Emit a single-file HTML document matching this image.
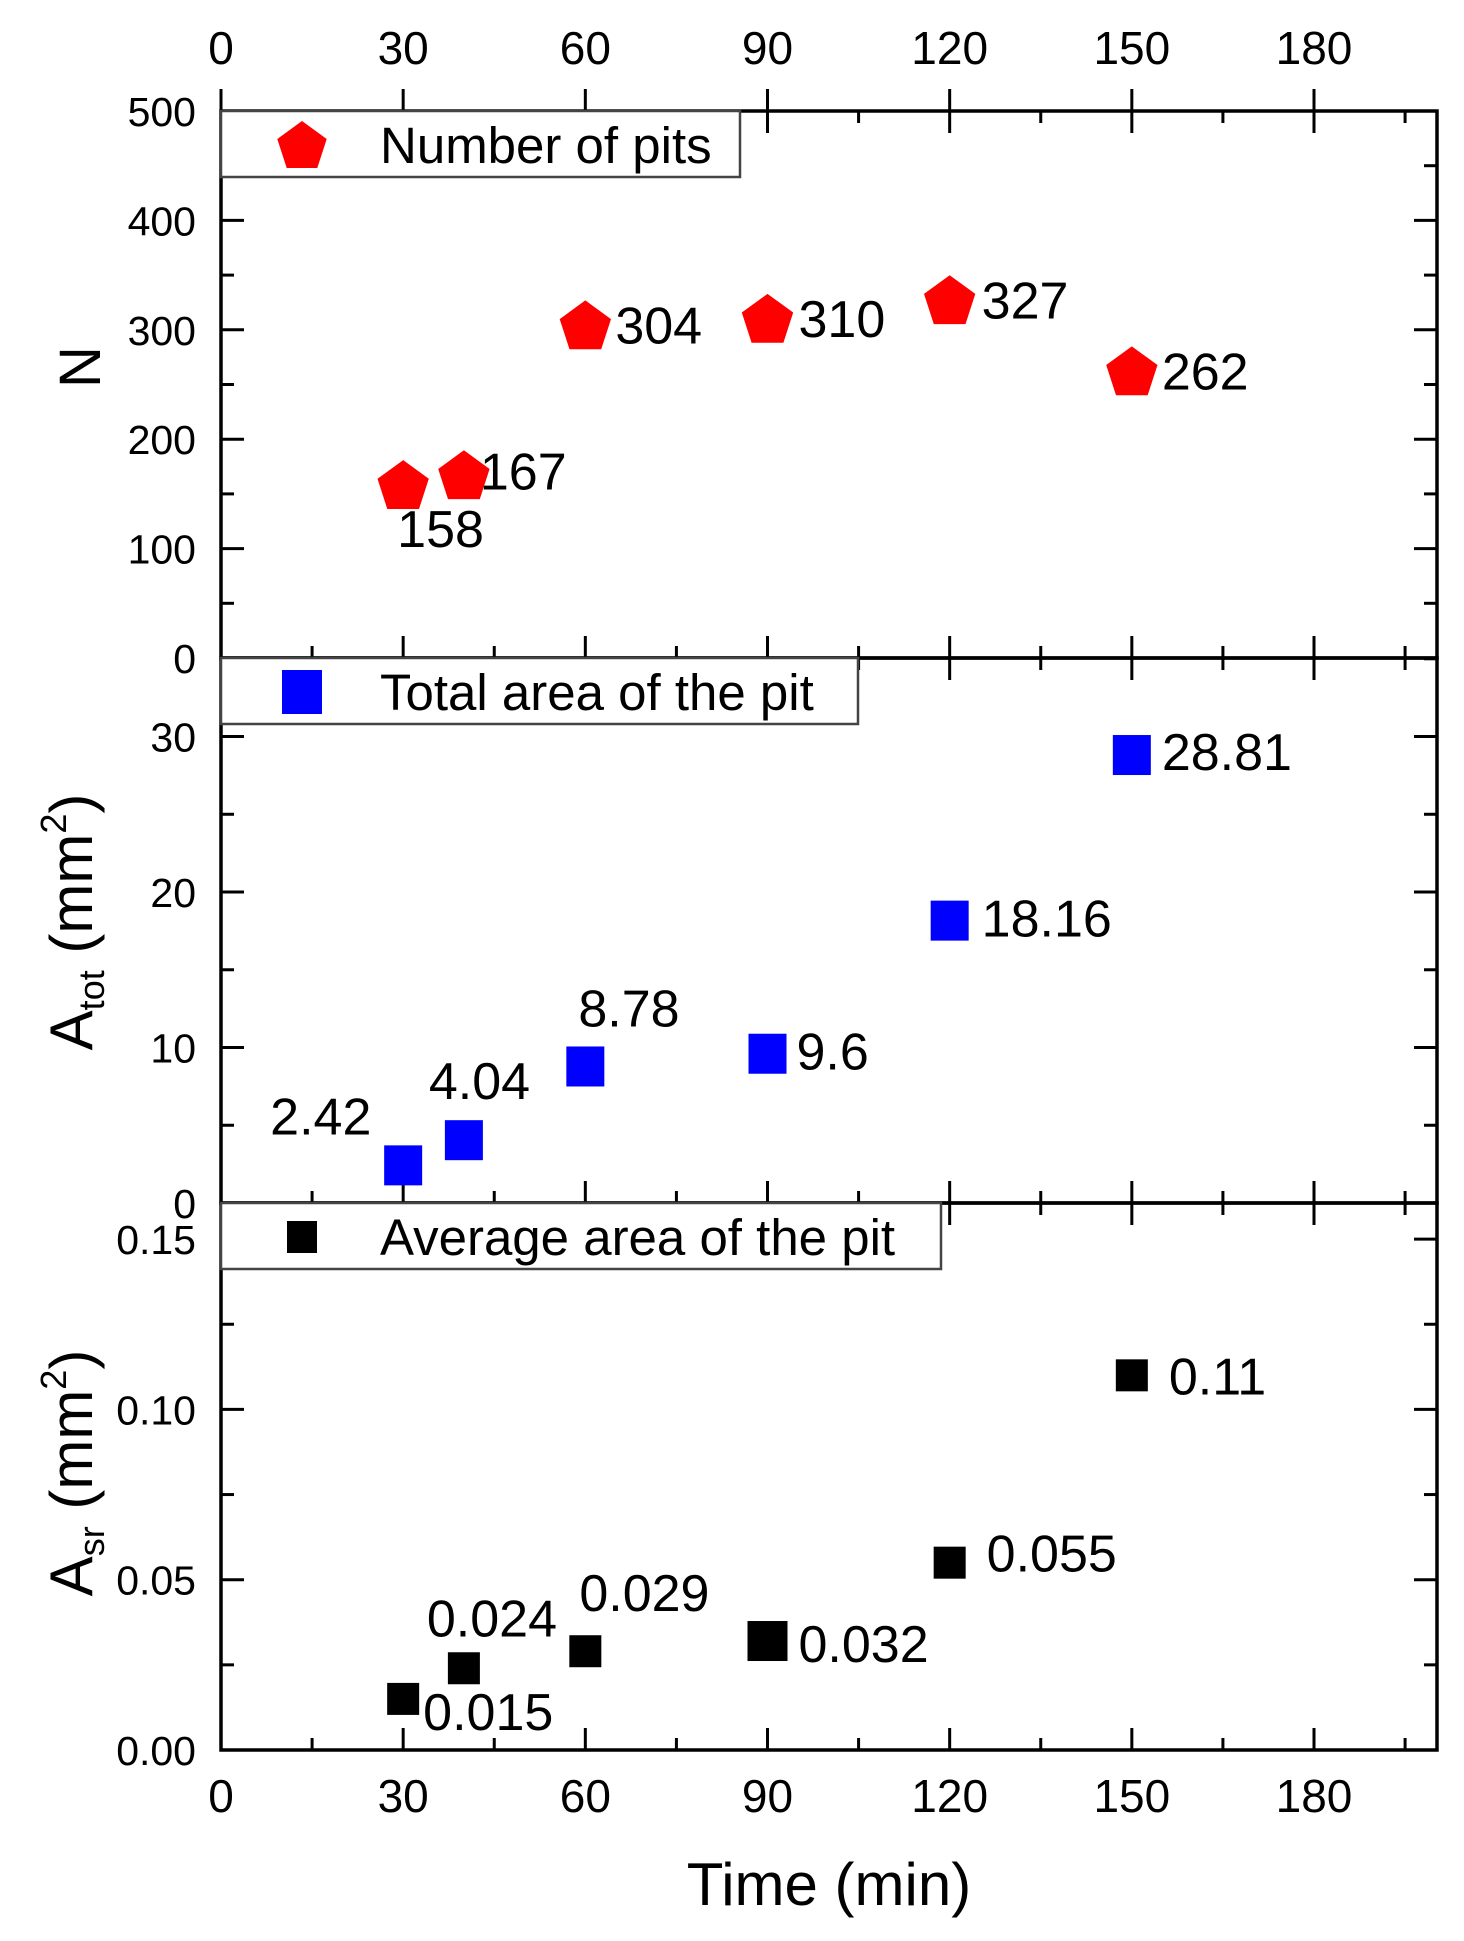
<!DOCTYPE html>
<html><head><meta charset="utf-8"><style>
html,body{margin:0;padding:0;background:#fff;}
svg{display:block;font-family:"Liberation Sans",Arial,sans-serif;}
</style></head><body>
<svg id="chart" width="1464" height="1941" viewBox="0 0 1464 1941" xmlns="http://www.w3.org/2000/svg">
<g id="g"></g>
</svg>
<script>
const times = [30, 40, 60, 90, 120, 150];
const pitCount = [158, 167, 304, 310, 327, 262];
const pitCountLabels = ["158","167","304","310","327","262"];
const totalArea = [2.42, 4.04, 8.78, 9.6, 18.16, 28.81];
const totalAreaLabels = ["2.42","4.04","8.78","9.6","18.16","28.81"];
const avgArea = [0.015, 0.024, 0.029, 0.032, 0.055, 0.11];
const avgAreaLabels = ["0.015","0.024","0.029","0.032","0.055","0.11"];
const xTicks = [0, 30, 60, 90, 120, 150, 180];
const nTicks = [0, 100, 200, 300, 400, 500];
const totTicks = [0, 10, 20, 30];
const avgTicks = ["0.00","0.05","0.10","0.15"];

const NS = "http://www.w3.org/2000/svg";
const g = document.getElementById('g');
const L = 221, R = 1437;
const xS = v => L + v * (1314 - L) / 180;
const xMax = (R - L) / ((1314 - L) / 180);
const panels = [
  {top:111, bot:658, min:0, max:500},
  {top:658, bot:1203, min:0, max:35.05},
  {top:1203, bot:1750, min:0, max:0.1606}
];
const yS = (p, v) => p.bot - (v - p.min) / (p.max - p.min) * (p.bot - p.top);

function el(tag, attrs, parent) {
  const e = document.createElementNS(NS, tag);
  for (const k in attrs) e.setAttribute(k, attrs[k]);
  (parent || g).appendChild(e);
  return e;
}
function txt(s, x, y, size, anchor, parent) {
  const t = el('text', {x:x, y:y, 'font-size':size, 'text-anchor':anchor||'start', fill:'#000'}, parent);
  t.textContent = s;
  return t;
}

panels.forEach((p, i) => {
  const fr = el('rect', {x:L, y:p.top, width:R-L, height:p.bot-p.top, fill:'none', stroke:'#000', 'stroke-width':3.5});
  
  
  for (let v = 0; v <= xMax; v += 15) {
    const x = xS(v), maj = v % 30 === 0;
    const len = maj ? 22 : 12;
    el('line', {x1:x, y1:p.bot, x2:x, y2:p.bot-len, stroke:'#000', 'stroke-width':3});
    el('line', {x1:x, y1:p.top, x2:x, y2:p.top+len, stroke:'#000', 'stroke-width':3});
  }
});
xTicks.forEach(v => { el('line', {x1:xS(v), y1:111, x2:xS(v), y2:89, stroke:'#000', 'stroke-width':3}); });

function yTicks(p, step, minorStep, labels, vals, name) {
  for (let v = p.min; v <= p.max + 1e-9; v += minorStep) {
    const y = yS(p, v);
    const maj = Math.abs(v / step - Math.round(v / step)) < 1e-6;
    const len = maj ? 23 : 13;
    el('line', {x1:L, y1:y, x2:L+len, y2:y, stroke:'#000', 'stroke-width':3});
    el('line', {x1:R, y1:y, x2:R-len, y2:y, stroke:'#000', 'stroke-width':3});
  }
  vals.forEach((v, i) => {
    const t = txt(labels[i], 196, yS(p, v) + 15, 41, 'end');
    
    
  });
}
yTicks(panels[0], 100, 50, nTicks.map(String), nTicks, 'n-axis');
yTicks(panels[1], 10, 5, totTicks.map(String), totTicks, 'atot-axis');
yTicks(panels[2], 0.05, 0.025, avgTicks, avgTicks.map(Number), 'asr-axis');

xTicks.forEach(v => {
  const t1 = txt(String(v), xS(v), 64, 46, 'middle');
  
  
  const t2 = txt(String(v), xS(v), 1812, 46, 'middle');
  
  
});

function legend(y0, w, name, label, drawSym) {
  const r = el('rect', {x:L, y:y0, width:w, height:66, fill:'#fff', stroke:'#444', 'stroke-width':2.5});
  
  
  drawSym(302, y0 + 34);
  const t = txt(label, 380, y0 + 52, 51);
  
  
}
function pentagon(cx, cy, r) {
  const pts = [];
  for (let k = 0; k < 5; k++) {
    const a = -Math.PI / 2 + k * 2 * Math.PI / 5;
    pts.push((cx + r * Math.cos(a)).toFixed(1) + ',' + (cy + 2 + r * Math.sin(a)).toFixed(1));
  }
  return el('polygon', {points:pts.join(' '), fill:'#ff0000'});
}
legend(111, 519, 'legend-number-of-pits', 'Number of pits', (x, y) => { pentagon(x, y, 26); });
legend(658, 637, 'legend-total-area', 'Total area of the pit', (x, y) => { el('rect', {x:x-20, y:y-22, width:40, height:44, fill:'#0000ff'}); });
legend(1203, 720, 'legend-average-area', 'Average area of the pit', (x, y) => { el('rect', {x:x-15, y:y-16, width:30, height:32, fill:'#000'}); });

const nOff = [[-6,62],[16,14],[30,18],[31,18],[32,18],[30,18]];
const tOff = [[-133,-31],[-35,-41],[-7,-40],[29,16],[32,16],[30,15]];
const aOff = [[20,31],[-37,-32],[-6,-40],[31,21],[37,9],[37,19]];
times.forEach((t, i) => {
  const x = xS(t);
  let y = yS(panels[0], pitCount[i]);
  const pm = pentagon(x, y, 27);
  
  
  let lb = txt(pitCountLabels[i], x + nOff[i][0], y + nOff[i][1], 52);
  
  
  y = yS(panels[1], totalArea[i]);
  const bm = el('rect', {x:x-19, y:y-20, width:38, height:40, fill:'#0000ff'});
  
  
  lb = txt(totalAreaLabels[i], x + tOff[i][0], y + tOff[i][1], 52);
  
  
  y = yS(panels[2], avgArea[i]);
  const s = t === 90 ? 40 : 32;
  const km = el('rect', {x:x-s/2, y:y-s/2, width:s, height:s, fill:'#000'});
  
  
  lb = txt(avgAreaLabels[i], x + aOff[i][0], y + aOff[i][1], 52);
  
  
});

let t = txt('Time (min)', 829, 1905, 60, 'middle');



const n = el('text', {x:0, y:0, 'font-size':58, 'text-anchor':'middle', transform:'translate(100,367) rotate(-90)'});
n.textContent = 'N';



const at = el('text', {x:0, y:0, 'font-size':60, 'text-anchor':'middle', transform:'translate(92,922) rotate(-90)'});
at.innerHTML = 'A<tspan font-size="36" dy="12">tot</tspan><tspan dy="-12"> (mm</tspan><tspan font-size="36" dy="-26">2</tspan><tspan dy="26">)</tspan>';



const as = el('text', {x:0, y:0, 'font-size':60, 'text-anchor':'middle', transform:'translate(92,1473) rotate(-90)'});
as.innerHTML = 'A<tspan font-size="36" dy="12">sr</tspan><tspan dy="-12"> (mm</tspan><tspan font-size="36" dy="-26">2</tspan><tspan dy="26">)</tspan>';


</script>
</body></html>
